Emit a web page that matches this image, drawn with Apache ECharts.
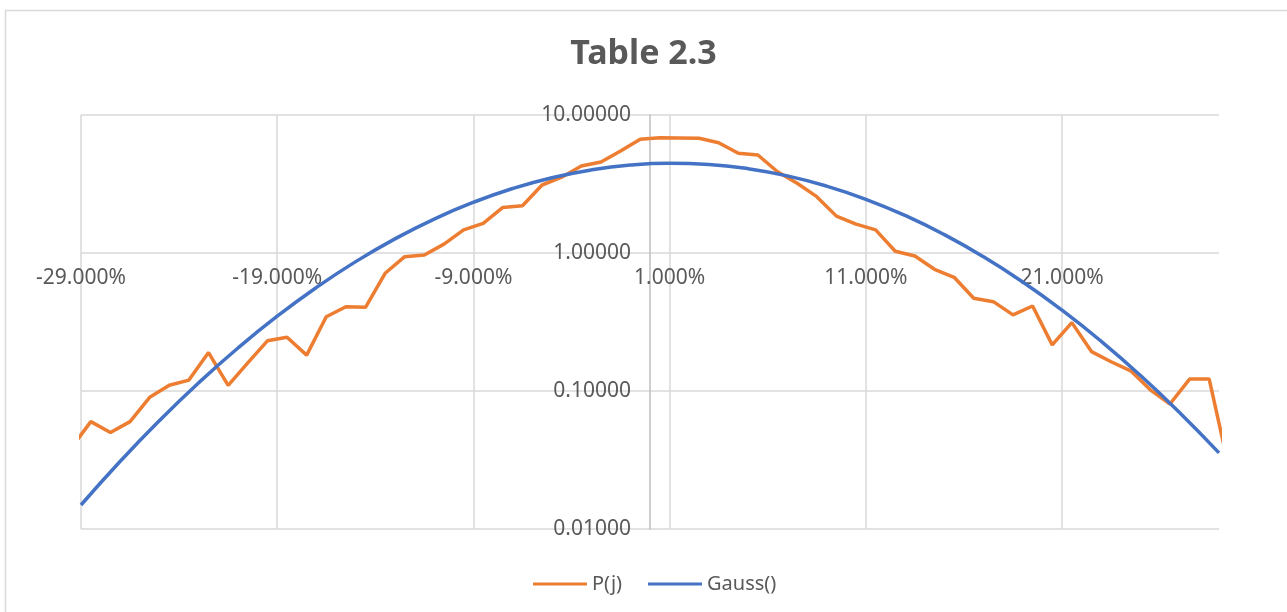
<!DOCTYPE html>
<html lang="en">

<head>
  <meta charset="utf-8">
  <title>Table 2.3</title>
  <script src="https://cdn.jsdelivr.net/npm/echarts@6/dist/echarts.min.js"></script>
  <style>
    body {
      margin: 0;
      background: white;
      overflow: hidden;
    }

    main {
      width: 1287px;
      height: 612px;
    }
  </style>
</head>

<body>
  <main id="chart"></main>

  <script>
    // --- Data.

    // Bin centres (percent) for P(j).
    const BIN_CENTRES = [
      -29.5, -28.5, -27.5, -26.5, -25.5, -24.5, -23.5, -22.5, -21.5, -20.5,
      -19.5, -18.5, -17.5, -16.5, -15.5, -14.5, -13.5, -12.5, -11.5, -10.5,
      -9.5, -8.5, -7.5, -6.5, -5.5, -4.5, -3.5, -2.5, -1.5, -0.5,
      0.5, 1.5, 2.5, 3.5, 4.5, 5.5, 6.5, 7.5, 8.5, 9.5,
      10.5, 11.5, 12.5, 13.5, 14.5, 15.5, 16.5, 17.5, 18.5, 19.5,
      20.5, 21.5, 22.5, 23.5, 24.5, 25.5, 26.5, 27.5, 28.5, 29.5
    ];

    const P_J = [
      0.0386, 0.060, 0.050, 0.060, 0.090, 0.110, 0.120, 0.190, 0.110, 0.160,
      0.231, 0.245, 0.182, 0.345, 0.408, 0.404, 0.713, 0.940, 0.967, 1.16,
      1.47, 1.64, 2.14, 2.20, 3.11, 3.54, 4.27, 4.56, 5.48, 6.67,
      6.85, 6.82, 6.78, 6.30, 5.28, 5.13, 3.88, 3.20, 2.56, 1.85,
      1.62, 1.47, 1.03, 0.951, 0.762, 0.667, 0.470, 0.444, 0.356, 0.413,
      0.216, 0.313, 0.193, 0.163, 0.140, 0.102, 0.0805, 0.122, 0.122, 0.028
    ];

    // Points along the Gauss() curve.
    const GAUSS_X = [
      -29, -27, -25, -23, -21, -19, -17, -15, -13, -11, -9, -7, -5, -3, -1,
      1, 3, 5, 7, 9, 11, 13, 15, 17, 19, 21, 23, 25, 27, 29
    ];

    const GAUSS_Y = [
      0.01492, 0.03097, 0.06113, 0.1148, 0.2050, 0.3485, 0.5630, 0.8660, 1.266, 1.762,
      2.330, 2.934, 3.513, 4.000, 4.335, 4.466, 4.377, 4.081, 3.620, 3.053,
      2.451, 1.871, 1.358, 0.9380, 0.6163, 0.3851, 0.2289, 0.1295, 0.06965, 0.03561
    ];

    const SERIES_NAMES = ['P(j)', 'Gauss()'];


    // --- Style.

    const TEXT_COLOR = '#595959';
    const GRID_COLOR = '#d9d9d9';
    const FONT = '"Noto Sans", sans-serif';

    // Plot box, in pixels.
    const GRID = { left: 81, right: 68, top: 115, bottom: 83 };
    const X_MIN = -29;
    const X_MAX = 29;

    function zip(xs, ys) {
      return xs.map((x, i) => [x, ys[i]]);
    }

    // How far the y axis must move right to sit on x = 0.
    function yAxisShift() {
      const width = 1287 - GRID.left - GRID.right;
      return (0 - X_MIN) / (X_MAX - X_MIN) * width;
    }


    // --- Echarts.

    function makeOptions() {
      return {
        animation: false,
        textStyle: { fontFamily: FONT },

        // The light frame round the whole chart, cut off at right and bottom.
        graphic: [{
          type: 'rect',
          shape: { x: 5.5, y: 10.5, width: 1400, height: 800 },
          style: { fill: 'none', stroke: GRID_COLOR, lineWidth: 1.5 },
          silent: true
        }],

        title: {
          text: 'Table 2.3',
          left: 'center',
          top: 37,
          padding: 0,
          textStyle: { color: TEXT_COLOR, fontSize: 34, fontWeight: 'bold', fontFamily: FONT }
        },

        legend: {
          data: SERIES_NAMES,
          left: 528,
          top: 569,
          icon: 'rect',
          itemWidth: 54,
          itemHeight: 3,
          itemGap: 26,
          selectedMode: false,
          textStyle: { color: TEXT_COLOR, fontSize: 20, fontFamily: FONT }
        },

        grid: Object.assign({ containLabel: false, outerBoundsMode: 'none' }, GRID),

        xAxis: {
          type: 'value',
          min: X_MIN,
          max: X_MAX,
          interval: 10,
          // Sits on the 1.0 line of the log axis.
          offset: -276,
          axisLine: { show: false },
          axisTick: { show: false },
          axisLabel: {
            color: TEXT_COLOR,
            fontSize: 21,
            margin: 15,
            showMaxLabel: false,
            formatter: v => v.toFixed(3) + '%'
          },
          splitLine: { show: true, showMaxLine: false, lineStyle: { color: GRID_COLOR, width: 1.5 } }
        },

        yAxis: {
          type: 'log',
          logBase: 10,
          min: 0.01,
          max: 10,
          offset: -yAxisShift(),
          axisLine: { show: true, onZero: false, lineStyle: { color: '#bfbfbf', width: 1.5 } },
          axisTick: { show: false },
          axisLabel: {
            color: TEXT_COLOR,
            fontSize: 21,
            margin: 19,
            formatter: v => v.toFixed(5)
          },
          splitLine: { show: true, lineStyle: { color: GRID_COLOR, width: 1.5 } }
        },

        series: [
          {
            name: SERIES_NAMES[0],
            type: 'line',
            data: zip(BIN_CENTRES, P_J),
            symbol: 'none',
            clip: true,
            lineStyle: { color: '#ed7d31', width: 3.5 },
            itemStyle: { color: '#ed7d31' }
          },
          {
            name: SERIES_NAMES[1],
            type: 'line',
            data: zip(GAUSS_X, GAUSS_Y),
            symbol: 'none',
            smooth: 0.5,
            clip: true,
            lineStyle: { color: '#4472c4', width: 3.5 },
            itemStyle: { color: '#4472c4' }
          }
        ]
      };
    }

    const chart = echarts.init(document.getElementById('chart'));
    chart.setOption(makeOptions());
  </script>
</body>

</html>
